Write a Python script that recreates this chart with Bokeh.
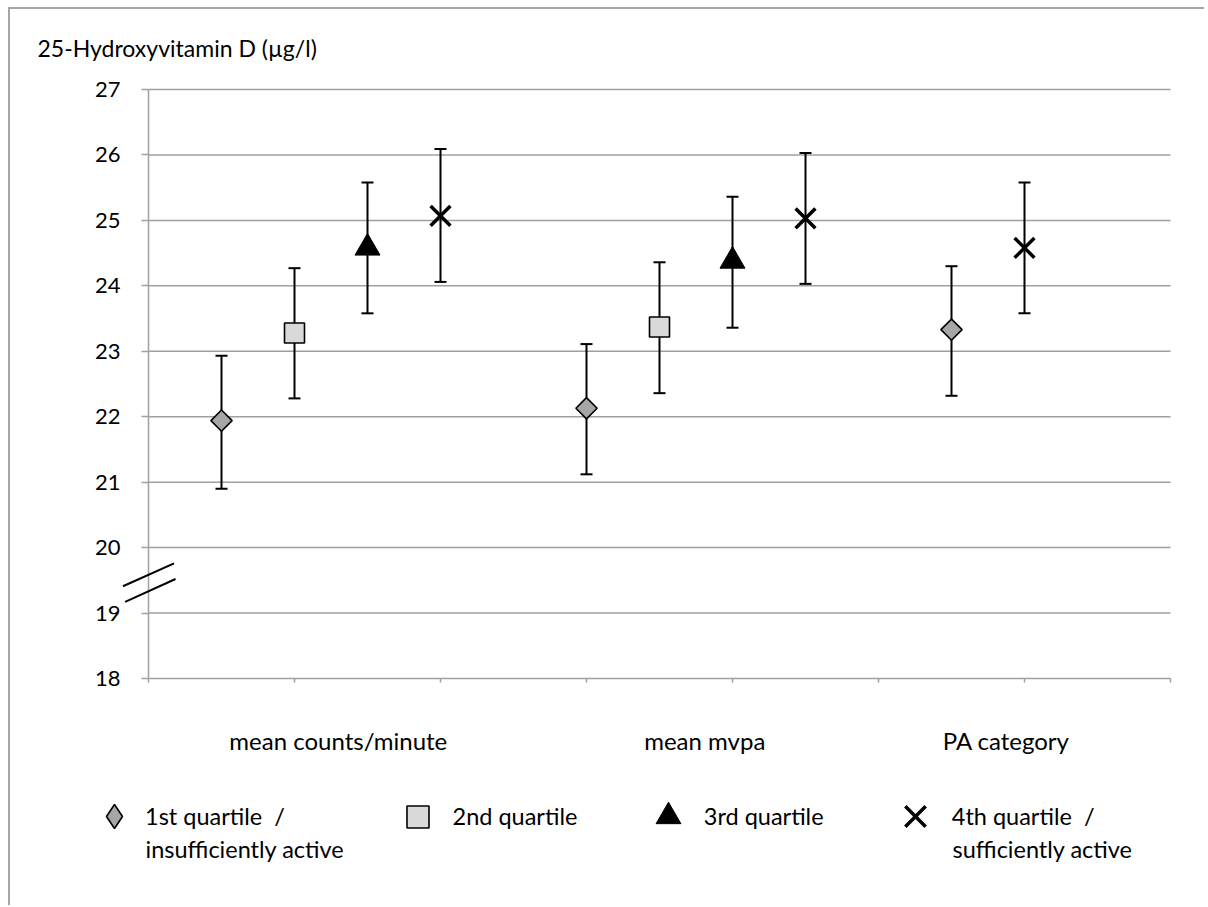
import numpy as np
from bokeh.plotting import figure
from bokeh.models import (ColumnDataSource, Whisker, TeeHead, FixedTicker, LinearAxis,
                          Range1d, Legend, LegendItem, Label, Arrow)
from bokeh.embed import file_html
from bokeh.resources import INLINE

# ---------------- data ----------------
title_text = "25-Hydroxyvitamin D (µg/l)"
groups = ["mean counts/minute", "mean mvpa", "PA category"]
group_label_pos = [2.6, 7.62, 11.75]
series_names = ["1st quartile  /", "2nd quartile", "3rd quartile", "4th quartile  /"]
second_lines = ["insufficiently active", "", "", "sufficiently active"]

q1_x = [1, 6, 11]
q1_mean = [21.94, 22.13, 23.33]
q1_low = [20.90, 21.12, 22.32]
q1_high = [22.93, 23.11, 24.30]

q2_x = [2, 7]
q2_mean = [23.28, 23.37]
q2_low = [22.28, 22.36]
q2_high = [24.27, 24.36]

q3_x = [3, 8]
q3_mean = [24.58, 24.38]
q3_low = [23.58, 23.36]
q3_high = [25.58, 25.36]

q4_x = [4, 9, 12]
q4_mean = [25.07, 25.03, 24.58]
q4_low = [24.06, 24.03, 23.58]
q4_high = [26.09, 26.03, 25.58]

y_ticks = list(range(18, 28))
x_ticks = [0, 2, 4, 6, 8, 10, 12, 14]
X_MIN, X_MAX = 0, 14
Y_MIN, Y_MAX = 18, 27

# ---------------- geometry (pixels) ----------------
W, H = 1196, 898                 # canvas size; canvas sits at page (10, 9)
CANVAS_X, CANVAS_Y = 10, 9
B_LEFT, B_TOP, B_RIGHT, B_BOTTOM = 75, 60, 20, 30
PLOT_LEFT_PAGE, PLOT_RIGHT_PAGE = 148, 1170      # x = X_MIN / X_MAX
PLOT_TOP_PAGE, PLOT_BOTTOM_PAGE = 89, 678        # y = Y_MAX / Y_MIN

frame_left_page = CANVAS_X + B_LEFT
frame_right_page = CANVAS_X + W - B_RIGHT
frame_top_page = CANVAS_Y + B_TOP
frame_bottom_page = CANVAS_Y + H - B_BOTTOM
x_px = (PLOT_RIGHT_PAGE - PLOT_LEFT_PAGE) / (X_MAX - X_MIN)
y_px = (PLOT_BOTTOM_PAGE - PLOT_TOP_PAGE) / (Y_MAX - Y_MIN)
x_range = Range1d(X_MIN - (PLOT_LEFT_PAGE - frame_left_page) / x_px,
                  X_MAX + (frame_right_page - PLOT_RIGHT_PAGE) / x_px)
y_range = Range1d(Y_MIN - (frame_bottom_page - PLOT_BOTTOM_PAGE) / y_px,
                  Y_MAX + (PLOT_TOP_PAGE - frame_top_page) / y_px)

# ---------------- style ----------------
FONT = "Lato"
TICK_FS = "22px"
FS = "24px"
TITLE_FS = "23px"
LEG_FS = "23.5px"
GRID = "#a0a0a0"

p = figure(width=W, height=H, x_range=x_range, y_range=y_range,
           output_backend="svg", toolbar_location=None,
           x_axis_location=None, y_axis_location=None,
           min_border_left=B_LEFT, min_border_top=B_TOP,
           min_border_right=B_RIGHT, min_border_bottom=B_BOTTOM)
p.styles = {"margin-left": "8px", "margin-top": "7px",
            "border-left": "2px solid #a6a6a6", "border-top": "2px solid #a6a6a6"}
p.outline_line_color = None
for g in p.grid:
    g.visible = False

# title
p.title.text = title_text
p.title.align = "left"
p.title.offset = 37 - frame_left_page
p.title.text_font = FONT
p.title.text_font_size = TITLE_FS
p.title.text_font_style = "normal"
p.title.text_color = "black"
p.title.standoff = 15

# y axis at x = 0
ya = LinearAxis(ticker=FixedTicker(ticks=y_ticks), fixed_location=X_MIN, bounds=(Y_MIN, Y_MAX),
                major_tick_out=7, major_tick_in=0, minor_tick_line_color=None,
                axis_line_color=GRID, axis_line_width=1.5,
                major_tick_line_color=GRID, major_tick_line_width=1.5,
                major_label_standoff=21, major_label_text_font=FONT,
                major_label_text_font_size=TICK_FS, major_label_text_color="black")
p.add_layout(ya, "left")

# x axis at y = 18 (tick marks only)
xa = LinearAxis(ticker=FixedTicker(ticks=x_ticks), fixed_location=Y_MIN, bounds=(X_MIN, X_MAX),
                major_label_overrides={t: "" for t in x_ticks},
                major_tick_out=4, major_tick_in=0, minor_tick_line_color=None,
                axis_line_color=GRID, axis_line_width=1.5,
                major_tick_line_color=GRID, major_tick_line_width=1.5,
                major_label_standoff=0, major_label_text_font_size="1px")
p.add_layout(xa, "below")

# horizontal grid lines at the y ticks
p.segment(x0=X_MIN, x1=X_MAX, y0=y_ticks[1:], y1=y_ticks[1:], line_color=GRID,
          line_width=1.5, level="image")

# group labels below the x axis
for pos, g in zip(group_label_pos, groups):
    p.add_layout(Label(x=pos, y=Y_MIN, y_offset=-62, text=g, text_align="center",
                       text_baseline="middle", text_font=FONT, text_font_size=FS,
                       text_color="black"))

series = [
    dict(x=q1_x, m=q1_mean, lo=q1_low, hi=q1_high, marker="square", angle=np.pi / 4, size=15,
         fill="#a6a6a6", lw=1.6, leg_marker="diamond", leg_size=24),
    dict(x=q2_x, m=q2_mean, lo=q2_low, hi=q2_high, marker="square", angle=0.0, size=20,
         fill="#d9d9d9", lw=1.6, leg_marker=None, leg_size=22),
    dict(x=q3_x, m=q3_mean, lo=q3_low, hi=q3_high, marker="triangle", angle=0.0, size=25,
         fill="black", lw=1.0, leg_marker=None, leg_size=25),
    dict(x=q4_x, m=q4_mean, lo=q4_low, hi=q4_high, marker="x", angle=0.0, size=28,
         fill="black", lw=3.5, leg_marker=None, leg_size=29),
]
legend_cx = [114, 417, 668, 915]   # glyph centres, page px
line1_page, line2_page = 816, 848
gap_to_text = [31, 35, 36, 37]

for i, s in enumerate(series):
    src = ColumnDataSource(dict(x=s["x"], m=s["m"], lo=s["lo"], hi=s["hi"],
                                a=[s["angle"]] * len(s["x"])))
    p.add_layout(Whisker(source=src, base="x", lower="lo", upper="hi", dimension="height",
                         line_color="black", line_width=2,
                         upper_head=TeeHead(size=12, line_width=2, line_color="black"),
                         lower_head=TeeHead(size=12, line_width=2, line_color="black")))
    leg_r = None
    if s["leg_marker"] is not None:
        # upright diamond drawn beneath the rotated-square markers (fully covered by them);
        # it supplies the legend key, since legend keys are drawn without rotation
        leg_r = p.scatter("x", "m", source=src, marker=s["leg_marker"], size=19,
                          fill_color=s["fill"], line_color=s["fill"], line_width=0.5)
    r = p.scatter("x", "m", source=src, marker=s["marker"], angle="a", size=s["size"],
                  fill_color=s["fill"], line_color="black", line_width=s["lw"])
    if leg_r is None:
        leg_r = r
    else:
        leg_r.glyph.line_color = "black"
        leg_r.glyph.line_width = 1.6

    box = s["leg_size"] / 0.4
    lx = legend_cx[i] - frame_left_page - box / 2
    ly = (frame_bottom_page - line1_page) - box / 2
    leg = Legend(items=[LegendItem(label=series_names[i], renderers=[leg_r])],
                 location=(lx, ly), orientation="horizontal",
                 padding=0, margin=0, border_line_color=None, background_fill_alpha=0,
                 glyph_width=int(round(box)), glyph_height=int(round(box)),
                 label_standoff=int(round(gap_to_text[i] - box / 2)),
                 label_text_font=FONT, label_text_font_size=LEG_FS, label_text_color="black")
    p.add_layout(leg)
    if second_lines[i]:
        p.add_layout(Label(x=legend_cx[i] - frame_left_page + gap_to_text[i],
                           y=frame_bottom_page - line2_page, x_units="screen", y_units="screen",
                           text=second_lines[i], text_font=FONT, text_font_size=LEG_FS,
                           text_baseline="middle", text_color="black"))

# axis break marks across the y axis
for (xs, ys, xe, ye) in [(-0.35, 19.41, 0.35, 19.76), (-0.32, 19.17, 0.37, 19.52)]:
    p.add_layout(Arrow(x_start=xs, y_start=ys, x_end=xe, y_end=ye, start=None, end=None,
                       line_color="black", line_width=2))

open("out.html", "w").write(file_html(p, INLINE))
